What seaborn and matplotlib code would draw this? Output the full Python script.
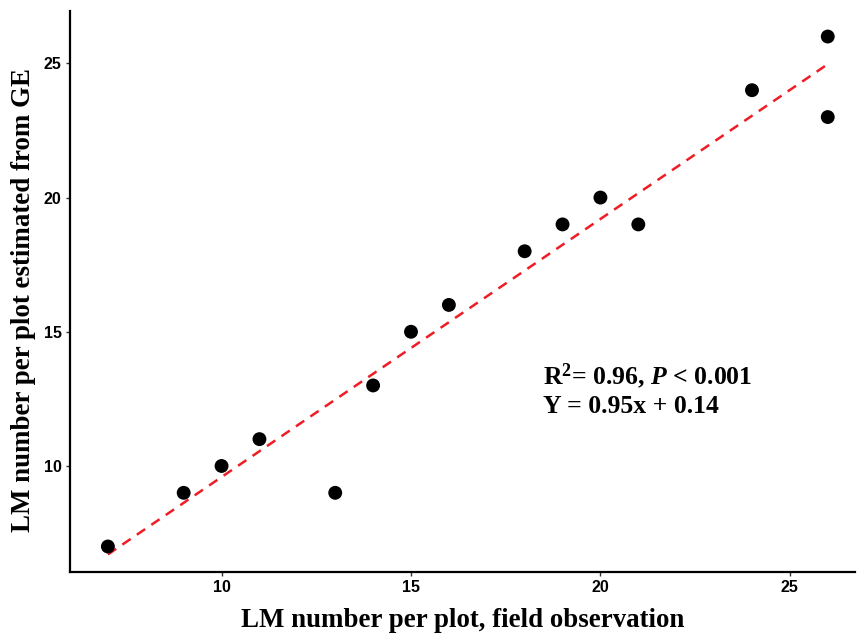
import matplotlib
matplotlib.use("Agg")
import matplotlib.pyplot as plt
import pandas as pd
import seaborn as sns

# LM counts per plot
field_obs = [7, 9, 10, 11, 13, 14, 15, 16, 18, 19, 20, 21, 24, 26, 26]
ge_estimate = [7, 9, 10, 11, 9, 13, 15, 16, 18, 19, 20, 19, 24, 26, 23]
x_ticks = [10, 15, 20, 25]
y_ticks = [10, 15, 20, 25]

df = pd.DataFrame({"field": field_obs, "ge": ge_estimate})

sns.set_style("white")
plt.rcParams["mathtext.fontset"] = "custom"
plt.rcParams["mathtext.rm"] = "Liberation Serif:bold"
plt.rcParams["mathtext.bf"] = "Liberation Serif:bold"
plt.rcParams["mathtext.it"] = "Liberation Serif:bold:italic"

fig = plt.figure(figsize=(8.57, 6.34), dpi=100)
ax = fig.add_axes([0.0817, 0.0978, 0.9160, 0.8848])

sns.regplot(
    data=df, x="field", y="ge", ax=ax, ci=None,
    scatter_kws={"s": 100, "color": "black", "edgecolor": "none", "alpha": 1, "zorder": 3},
    line_kws={"color": "#ee1c25", "linestyle": (0, (4, 3)), "linewidth": 1.8, "zorder": 2},
)

ax.set_xlim(6.0, 26.72)
ax.set_ylim(6.05, 26.95)
ax.set_xticks(x_ticks)
ax.set_yticks(y_ticks)

for side in ["top", "right"]:
    ax.spines[side].set_visible(False)
for side in ["left", "bottom"]:
    ax.spines[side].set_linewidth(1.6)
    ax.spines[side].set_color("black")

ax.tick_params(axis="both", which="major", length=3, width=1, color="#333333",
               direction="out", pad=3, bottom=True, left=True)
for lab in ax.get_xticklabels() + ax.get_yticklabels():
    lab.set_fontfamily("Liberation Sans")
    lab.set_fontweight("bold")
    lab.set_fontsize(11.5)
    lab.set_color("black")

serif = {"family": "Liberation Serif", "weight": "bold", "size": 19.4, "color": "black"}
ax.set_xlabel("LM number per plot, field observation", fontdict=serif, labelpad=9)
ax.set_ylabel("LM number per plot estimated from GE", fontdict=serif)
ax.yaxis.set_label_coords(-0.043, 0.485)

note = {"family": "Liberation Serif", "weight": "bold", "size": 18.5, "color": "black"}
ax.text(18.48, 13.06, r"R$^\mathrm{2}$= 0.96, $P$ < 0.001", fontdict=note)
ax.text(18.48, 11.98, "Y = 0.95x + 0.14", fontdict=note)

fig.savefig("out.png", dpi=100)
